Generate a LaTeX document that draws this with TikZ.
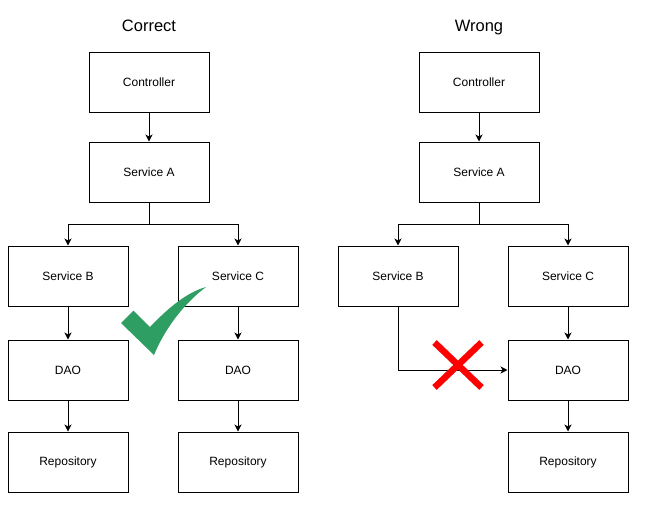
\documentclass[tikz,border=0pt]{standalone}
\usepackage{fontspec}
\setmainfont{Liberation Sans}
\usetikzlibrary{arrows.meta}
\definecolor{okgreen}{RGB}{46,158,98}
\definecolor{xred}{RGB}{255,0,0}
\begin{document}
\begin{tikzpicture}[x=1pt,y=-1pt,
  box/.style={draw=black,line width=1pt,minimum width=120pt,minimum height=60pt,inner sep=0pt,font=\fontsize{12}{14}\selectfont},
  ttl/.style={anchor=base,inner sep=0pt,font=\fontsize{16.5}{19}\selectfont},
  conn/.style={line width=1pt,-{Stealth[length=7pt,width=7pt,inset=2pt]}}]
\useasboundingbox (0,0) rectangle (645,504);
% left
\node[ttl] (t1) at (149,31.8) {Correct};
\node[box] (c1) at (149,82) {Controller};
\node[box] (a1) at (149,172) {Service A};
\node[box] (b1) at (68,276) {Service B};
\node[box] (sc1) at (238,276) {Service C};
\node[box] (d1) at (68,370) {DAO};
\node[box] (d2) at (238,370) {DAO};
\node[box] (r1) at (68,462) {Repository};
\node[box] (r2) at (238,462) {Repository};
\coordinate (j1) at (149,224.5);
\draw[conn] (c1) -- (a1);
\draw[line width=1pt] (a1.south) -- (j1);
\draw[conn] (j1) -| (b1.north);
\draw[conn] (j1) -| (sc1.north);
\draw[conn] (b1) -- (d1);
\draw[conn] (sc1) -- (d2);
\draw[conn] (d1) -- (r1);
\draw[conn] (d2) -- (r2);
% right
\node[ttl] (t2) at (479,31.8) {Wrong};
\node[box] (c2) at (479,82) {Controller};
\node[box] (a2) at (479,172) {Service A};
\node[box] (b2) at (398,276) {Service B};
\node[box] (sc2) at (568,276) {Service C};
\node[box] (d3) at (568,370) {DAO};
\node[box] (r3) at (568,462) {Repository};
\coordinate (j2) at (479,224.5);
\draw[conn] (c2) -- (a2);
\draw[line width=1pt] (a2.south) -- (j2);
\draw[conn] (j2) -| (b2.north);
\draw[conn] (j2) -| (sc2.north);
\draw[conn] (b2.south) |- (d3.west);
\draw[conn] (sc2) -- (d3);
\draw[conn] (d3) -- (r3);
% check mark
\fill[okgreen] (121,323) -- (133.5,310.5) -- (150,327)
  .. controls (170,306) and (188,292) .. (206,287)
  .. controls (186,302) and (166,326) .. (154,355) -- cycle;
% red X
\draw[xred,line width=6.5pt] (434.5,342.5) -- (481.5,387.5);
\draw[xred,line width=6.5pt] (481.5,342.5) -- (434.5,387.5);
\end{tikzpicture}
\end{document}
